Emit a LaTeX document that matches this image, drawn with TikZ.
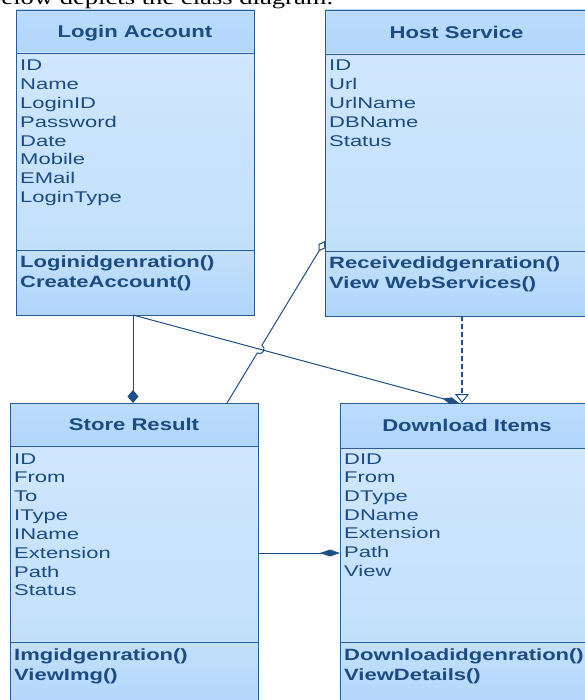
\documentclass[tikz,border=0pt]{standalone}
\usepackage{fontspec}
\setmainfont{Liberation Sans}
\newfontfamily\attrfont{Liberation Sans}[FakeStretch=1.42]
\newfontfamily\methfont{Liberation Sans}[FakeStretch=1.35]
\newfontfamily\titlefont{Liberation Sans}[FakeStretch=1.3]
\newfontfamily\bodyserif{Liberation Serif}[FakeStretch=1.33]
\usetikzlibrary{arrows.meta,calc,intersections}

\definecolor{umlborder}{HTML}{2C5C92}
\definecolor{umltext}{HTML}{1B4B80}
\definecolor{titletop}{HTML}{BBDCFC}
\definecolor{titlebot}{HTML}{B1D6FB}
\definecolor{attrtop}{HTML}{CFE6FD}
\definecolor{attrmid}{HTML}{EEF6FE}
\definecolor{attrbot}{HTML}{C3E0FB}
\definecolor{methtop}{HTML}{C3E0FB}
\definecolor{methbot}{HTML}{B0D5FB}
\definecolor{link}{HTML}{1F4F86}

\tikzset{
  classframe/.style={draw=umlborder, line width=0.9pt, inner sep=0pt, outer sep=0pt, anchor=north west},
  attrtext/.style={anchor=base west, inner sep=0pt, text=umltext, font=\attrfont\fontsize{15.5}{18}\selectfont},
  methtext/.style={anchor=base west, inner sep=0pt, text=umltext, font=\methfont\bfseries\fontsize{16.3}{20}\selectfont},
  titletext/.style={anchor=base, inner sep=0pt, text=umltext, font=\titlefont\bfseries\fontsize{17}{20}\selectfont},
  assoc/.style={draw=link, line width=1pt},
  dep/.style={draw=link, line width=2.6pt, dash pattern=on 5pt off 3pt},
}

% #1 name, #2 left, #3 top, #4 right, #5 bottom, #6 title rule, #7 method rule, #8 title
\newcommand\umlclass[8]{%
  \shade[top color=titletop, bottom color=titlebot] (#2,#3) rectangle (#4,#6);
  \shade[top color=attrtop, middle color=attrmid, bottom color=attrbot] (#2,#6) rectangle (#4,#7);
  \shade[top color=methtop, bottom color=methbot] (#2,#7) rectangle (#4,#5);
  \node[classframe, minimum width={(#4-#2)*1pt}, minimum height={(#5-#3)*1pt}] (#1) at (#2,#3) {};
  \draw[umlborder, line width=0.9pt] (#2,#6) -- (#4,#6) (#2,#7) -- (#4,#7);
  \node[titletext] (#1-title) at ({(#2+#4)/2},{(#3+#6)/2+6.2}) {#8};
}
% #1 name, #2 x, #3 first baseline, #4 line step, #5 entries
\newcommand\umlattrs[5]{%
  \foreach \t [count=\i from 0] in {#5}
    \node[attrtext] (#1-attr-\i) at ({#2},{#3+\i*#4}) {\t};
}
% #1 name, #2 x, #3 first baseline, #4 entries
\newcommand\umlmeths[4]{%
  \foreach \t [count=\i from 0] in {#4}
    \node[methtext] (#1-meth-\i) at ({#2},{#3+\i*20}) {\t};
}

\begin{document}
\begin{tikzpicture}[x=1pt,y=-1pt]
  \fill[white] (0,0) rectangle (584,700);
  \useasboundingbox (0,0) rectangle (584,700);

  % running text above the figure
  \node[anchor=base west, inner sep=0pt, font=\bodyserif\fontsize{20}{24}\selectfont] (caption) at (-12,5) {below depicts the class diagram.};

  % classes
  \umlclass{login}{16}{10}{254}{315}{53}{250}{Login Account}
  \umlattrs{login}{20}{71}{18.8}{ID,Name,LoginID,Password,Date,Mobile,EMail,LoginType}
  \umlmeths{login}{20}{267}{Loginidgenration(),CreateAccount()}

  \umlclass{host}{325}{10}{588}{316}{54}{251}{Host Service}
  \umlattrs{host}{329}{71}{18.8}{ID,Url,UrlName,DBName,Status}
  \umlmeths{host}{329}{268}{Receivedidgenration(),View WebServices()}

  \umlclass{store}{10}{403}{258}{712}{446}{642}{Store Result}
  \umlattrs{store}{14}{464}{18.85}{ID,From,To,IType,IName,Extension,Path,Status}
  \umlmeths{store}{14}{660}{Imgidgenration(),ViewImg()}

  \umlclass{dl}{340}{403}{594}{712}{448}{642}{Download Items}
  \umlattrs{dl}{344}{464}{18.7}{DID,From,DType,DName,Extension,Path,View}
  \umlmeths{dl}{344}{660}{Downloadidgenration(),ViewDetails()}

  % connector end points on the class frames
  \coordinate (ls) at ([xshift=-2pt]login.south);
  \coordinate (st) at ([xshift=-1pt]store.north);
  \coordinate (sa) at ([xshift=93pt]store.north);
  \coordinate (hb) at ([yshift=-78pt]host.west);
  \coordinate (hs) at ([xshift=5.5pt]host.south);
  \coordinate (dd) at ([xshift=-8pt]dl.north);
  \coordinate (dt) at ([xshift=-5pt]dl.north);
  \coordinate (se) at ([yshift=4.5pt]store.east);
  \coordinate (dw) at ([yshift=4.5pt]dl.west);

  % composition: Login Account -> Store Result
  \draw[assoc, -{Diamond[length=13pt,width=11pt,fill=link]}] (ls) -- (st);
  % composition: Login Account -> Download Items
  \draw[assoc, name path=diag, -{Diamond[length=17pt,width=7pt,fill=link]}] (ls) -- (dd);
  % composition: Store Result -> Download Items
  \draw[assoc, -{Diamond[length=20pt,width=7pt,fill=link]}] (se) -- (dw);
  % realization: Host Service -> Download Items
  \draw[dep, -{Triangle[length=9pt,width=14pt,line width=1pt,fill=white]}] (hs) -- (dt);
  % aggregation: Store Result -> Host Service, hopping over the diagonal
  \path[name path=aggr] (sa) -- (hb);
  \path[name intersections={of=diag and aggr, by=cross}];
  \draw[assoc, -{Diamond[length=12pt,width=8pt,line width=1pt,fill=white]}]
    (sa) -- ($(cross)!4.5pt!(sa)$) arc[start angle=238.8, end angle=418.8, radius=4.5pt] -- (hb);
\end{tikzpicture}
\end{document}
